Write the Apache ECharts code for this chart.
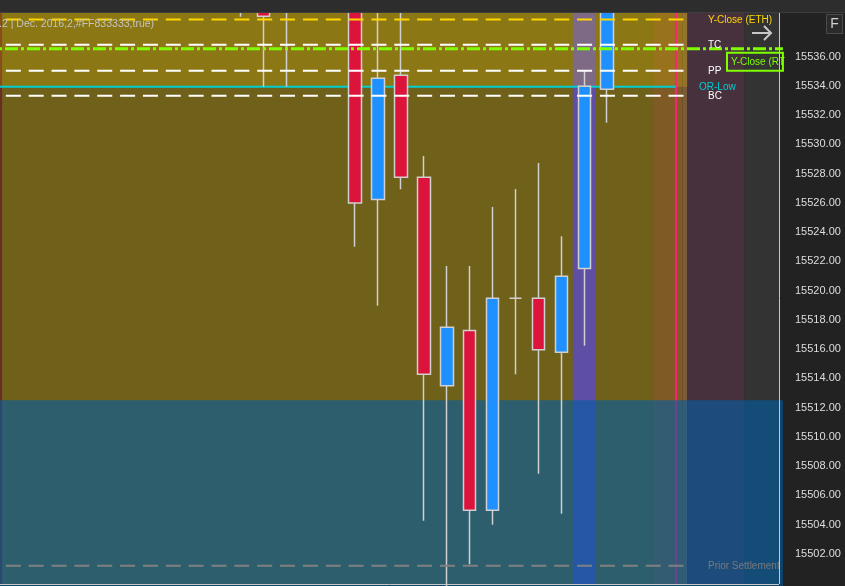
<!DOCTYPE html>
<html><head><meta charset="utf-8">
<script src="https://cdn.jsdelivr.net/npm/echarts@6/dist/echarts.min.js"></script>
<style>html,body{margin:0;padding:0;background:#222;}#c{width:845px;height:586px;}</style>
</head><body><div id="c"></div>
<script>
// ---------- data ----------
const categories = ['B01','B02','B03','B04','B05','B06','B07','B08','B09','B10','B11','B12','B13','B14','B15','B16','B17','B18','B19','B20','B21','B22','B23','B24','B25','B26','B27','B28','B29','B30','B31','B32','B33','B34'];
const E = '-';
const opens  = [E,E,E,E,E,E,E,E,E,E, 15545.00,15541.00,15540.00, E,E, 15541.00,15526.24,15534.73,15527.75,15513.49,15517.27,15504.97,15519.47,15519.47,15515.78,15521.52,15533.77, E,E,E,E,E,E,E];
const closes = [E,E,E,E,E,E,E,E,E,E, 15543.00,15538.76,15541.50, E,E, 15525.99,15534.52,15527.75,15514.27,15517.49,15504.97,15519.47,15519.47,15515.96,15520.98,15533.98,15541.00, E,E,E,E,E,E,E];
const lows   = [E,E,E,E,E,E,E,E,E,E, 15538.74,15533.95,15533.95, E,E, 15523.00,15518.97,15526.94,15504.26,15499.50,15501.28,15503.98,15514.27,15507.47,15504.74,15516.23,15531.49, E,E,E,E,E,E,E];
const highs  = [E,E,E,E,E,E,E,E,E,E, 15546.00,15542.00,15543.00, E,E, 15542.00,15539.60,15539.60,15529.21,15521.68,15521.68,15525.72,15526.95,15528.73,15523.71,15535.04,15542.00, E,E,E,E,E,E,E];

const levelNames  = ['Y-Close (ETH)','TC','Y-Close (RTH)','PP','OR-Low','BC','Prior Settlement'];
const levelValues = [15538.54, 15536.82, 15536.55, 15535.04, 15533.94, 15533.33, 15501.18];

// session bands on slot scale (0..34)
const bandFrom = [0, 0.09, 25, 28.5, 29.8, 30, 32.5];
const bandTo   = [0.09, 28.5, 26, 29.8, 30, 32.5, 34];
const blueZoneTop = 15512.50;

const tickValues  = [15502,15504,15506,15508,15510,15512,15514,15516,15518,15520,15522,15524,15526,15528,15530,15532,15534,15536,15538];
const labelValues = [15502,15504,15506,15508,15510,15512,15514,15516,15518,15520,15522,15524,15526,15528,15530,15532,15534,15536];

const headerText = '.2 | Dec. 2016,2,#FF833333,true)';

// ---------- styles ----------
const bandColors = ['#6e2a24','#6f601a','#5e4fa5','#805a24','#7a5b3a','#46313d','#333333'];
const FONT = '"Liberation Sans", Arial, sans-serif';
const levelStyle = [
  {color:'#ffd700', width:2, dash:[15,7.85], xEnd:30, labelX:30.9, labelColor:'#ffd700'},
  {color:'#ffffff', width:2, dash:[15,7.85], xEnd:30, labelX:30.9, labelColor:'#ffffff'},
  {color:'#7fff00', width:3, dash:[13,3,3,3], xEnd:34.17, box:true, labelColor:'#7fff00'},
  {color:'#ffffff', width:2, dash:[15,7.85], xEnd:30, labelX:30.9, labelColor:'#ffffff'},
  {color:'#00ced1', width:2, dash:null, xEnd:29.5, labelX:30.51, labelColor:'#00ced1'},
  {color:'#ffffff', width:2, dash:[15,7.85], xEnd:30, labelX:30.9, labelColor:'#ffffff'},
  {color:'#808080', width:2, dash:[15,7.85], xEnd:30, labelX:30.9, labelColor:'#7a7a7a'}
];

const candleData = opens.map((o,i) => o === E ? [E,E,E,E] : [o, closes[i], lows[i], highs[i]]);

const chart = echarts.init(document.getElementById('c'));

function bandItem(params, api){
  const i = params.dataIndex;
  const p0 = api.coord([bandFrom[i], 15538.99]);
  const p1 = api.coord([bandTo[i], 15499.93]);
  return {type:'rect', shape:{x:p0[0], y:p0[1], width:p1[0]-p0[0], height:p1[1]-p0[1]}, style:{fill:bandColors[i]}};
}
function overlayItem(params, api){
  const k = params.dataIndex;
  if (k === 0) { // gold overlay above OR-Low
    const p0 = api.coord([0, 15538.99]);
    const p1 = api.coord([30, levelValues[4]]);
    return {type:'rect', shape:{x:p0[0], y:p0[1], width:p1[0]-p0[0], height:p1[1]-p0[1]}, style:{fill:'rgba(255,215,0,0.2)'}};
  } else if (k === 1) { // pink session line
    const p0 = api.coord([29.5, 15538.99]);
    const p1 = api.coord([29.5, 15499.93]);
    return {type:'line', shape:{x1:p0[0], y1:p0[1], x2:p1[0], y2:p1[1]}, style:{stroke:'#ff2080', lineWidth:2}};
  } else { // blue zone
    const p0 = api.coord([0, blueZoneTop]);
    const p1 = api.coord([34.17, 15499.93]);
    return {type:'rect', shape:{x:p0[0], y:p0[1], width:p1[0]-p0[0], height:p1[1]-p0[1]+2}, style:{fill:'rgba(0,94,166,0.6)'}};
  }
}
function levelLine(params, api){
  const i = params.dataIndex;
  const st = levelStyle[i];
  if ((i === 4) !== (params.seriesName === 'under')) return null;
  const v = levelValues[i];
  const p0 = api.coord([0, v]);
  const p1 = api.coord([st.xEnd, v]);
  return {type:'line', shape:{x1:p0[0], y1:p0[1], x2:p1[0], y2:p1[1]},
    style:{stroke:st.color, lineWidth:st.width, lineDash:st.dash, lineDashOffset: st.dash ? 17 : 0}};
}
function levelLabel(params, api){
  const i = params.dataIndex;
  const st = levelStyle[i];
  const v = levelValues[i];
  if (st.box) {
    const p = api.coord([31.73, v]);
    const pr = api.coord([34.17, v]);
    return {type:'group', children:[
      {type:'rect', shape:{x:p[0], y:p[1]+4, width:pr[0]-p[0], height:18}, style:{fill:'none', stroke:st.color, lineWidth:2}},
      {type:'text', x:p[0]+4, y:p[1]+13.5, style:{text:levelNames[i].slice(0, 11), fill:st.labelColor, font:'10px '+FONT, verticalAlign:'middle', align:'left'}}
    ]};
  }
  const p = api.coord([st.labelX, v]);
  return {type:'text', x:p[0], y:p[1]+0.5, style:{text:levelNames[i], fill:st.labelColor, font:'10px '+FONT, verticalAlign:'middle', align:'left'}};
}

chart.setOption({
  animation:false,
  backgroundColor:'#222222',
  grid:{left:0, right:66, top:13, bottom:2, outerBoundsMode:'none', containLabel:false},
  xAxis:[
    {type:'category', data:categories, show:false, boundaryGap:true},
    {type:'value', min:0, max:34, show:false}
  ],
  yAxis:{
    type:'value', position:'right', min:15499.93, max:15538.99, offset:7,
    splitLine:{show:false}, axisLine:{show:false},
    axisTick:{show:true, length:5, customValues:tickValues, lineStyle:{color:'#c8c8c8', width:1}},
    axisLabel:{customValues:labelValues, formatter:v=>v.toFixed(2), color:'#dedede', fontSize:11, fontFamily:FONT, margin:9}
  },
  series:[
    {name:'bands', type:'custom', xAxisIndex:1, yAxisIndex:0, z:1, clip:false, silent:true, renderItem:bandItem, data:bandFrom.map((v,i)=>[v, bandTo[i]])},
    {name:'overlays', type:'custom', xAxisIndex:1, yAxisIndex:0, z:2, clip:false, silent:true, renderItem:overlayItem, data:[[0],[1],[2]]},
    {name:'under', type:'custom', xAxisIndex:1, yAxisIndex:0, z:3, clip:false, silent:true, renderItem:levelLine, data:levelValues.map(v=>[0,v])},
    {name:'candles', type:'candlestick', xAxisIndex:0, yAxisIndex:0, z:4, barWidth:13, data:candleData,
      itemStyle:{color:'#1e90ff', color0:'#dc143c', borderColor:'#d0d0d0', borderColor0:'#d0d0d0', borderColorDoji:'#d0d0d0', borderWidth:1.5}},
    {name:'over', type:'custom', xAxisIndex:1, yAxisIndex:0, z:5, clip:false, silent:true, renderItem:levelLine, data:levelValues.map(v=>[0,v])},
    {name:'labels', type:'custom', xAxisIndex:1, yAxisIndex:0, z:6, clip:false, silent:true, renderItem:levelLabel, data:levelValues.map(v=>[0,v])}
  ],
  graphic:[
    {type:'rect', z:100, shape:{x:0,y:0,width:845,height:12.5}, style:{fill:'#2d2d2d'}},
    {type:'line', z:100, shape:{x1:0,y1:12.5,x2:845,y2:12.5}, style:{stroke:'#3e3e3e', lineWidth:1}},
    {type:'line', z:100, shape:{x1:779.5,y1:13,x2:779.5,y2:584}, style:{stroke:'#c8c8c8', lineWidth:1}},
    {type:'line', z:100, shape:{x1:0,y1:584.5,x2:779,y2:584.5}, style:{stroke:'#c8c8c8', lineWidth:1}},
    {type:'text', z:100, x:-1, y:24, style:{text:headerText, fill:'#c4c4c4', font:'10.5px '+FONT, verticalAlign:'middle'}},
    {type:'rect', z:100, shape:{x:826.5,y:14.5,width:16,height:19}, style:{fill:'#2b2b2b', stroke:'#4c4c4c', lineWidth:1}},
    {type:'text', z:101, x:834.5, y:24.5, style:{text:'F', fill:'#d0d0d0', font:'14px '+FONT, align:'center', verticalAlign:'middle'}},
    {type:'polyline', z:100, shape:{points:[[752,33],[771,33]]}, style:{stroke:'#c8c8c8', lineWidth:2, fill:null}},
    {type:'polyline', z:100, shape:{points:[[764,26],[771,33],[764,40]]}, style:{stroke:'#c8c8c8', lineWidth:2, fill:null}}
  ]
});
</script></body></html>
